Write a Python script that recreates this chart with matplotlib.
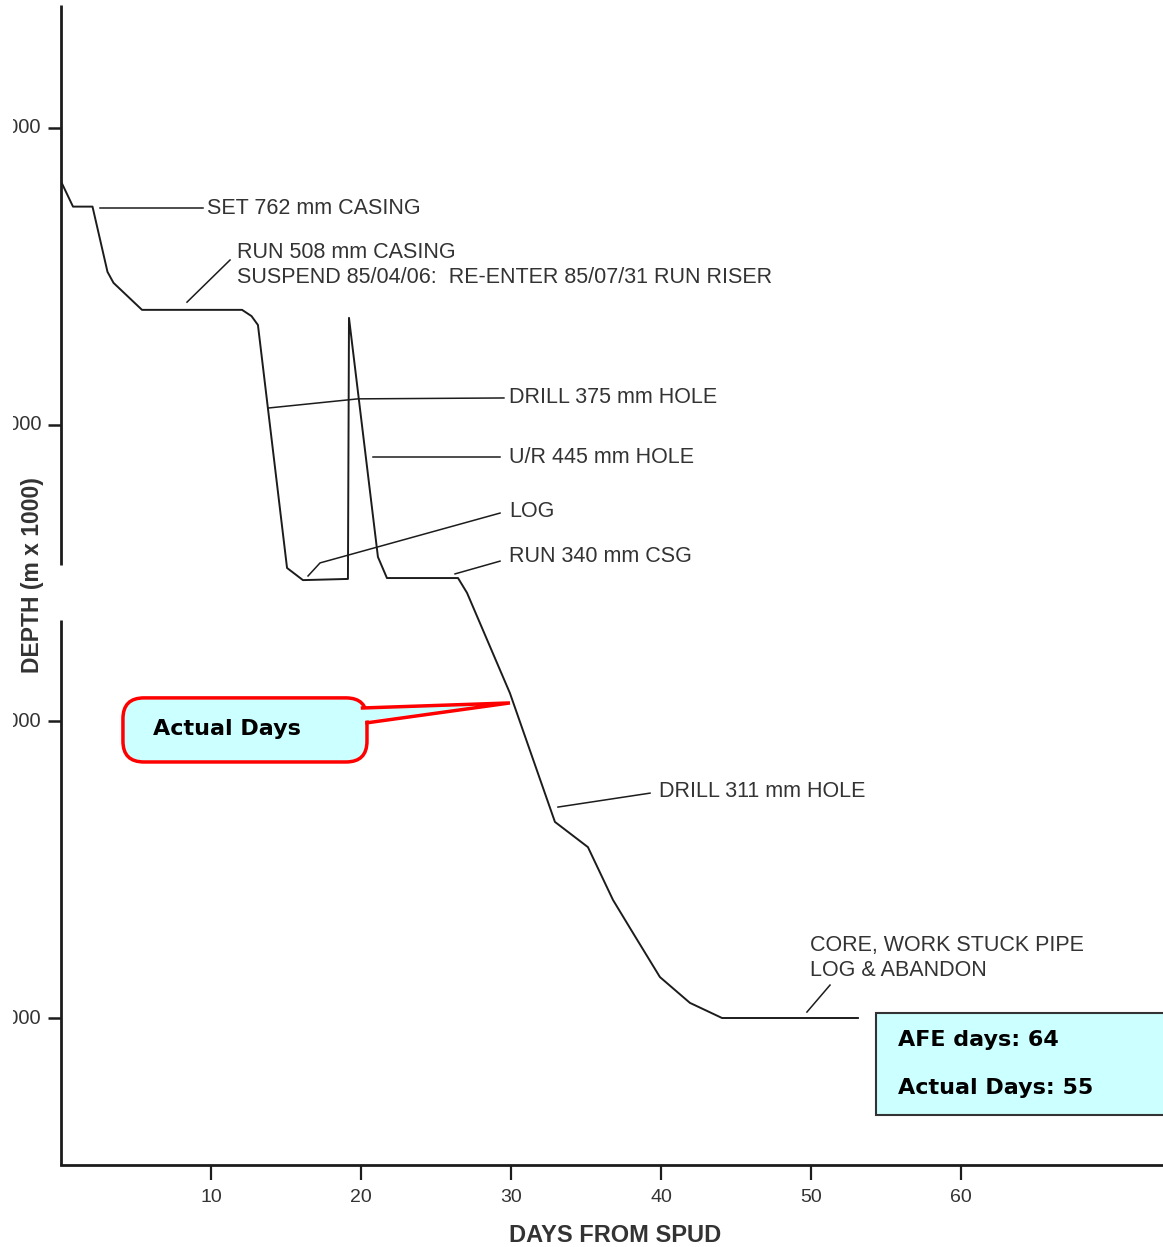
import matplotlib
matplotlib.use("Agg")
import matplotlib.pyplot as plt
from matplotlib.patches import FancyBboxPatch, Polygon, Rectangle
from matplotlib.transforms import Bbox, TransformedBbox, offset_copy

plt.rcParams['font.family'] = ['Liberation Sans', 'DejaVu Sans']

# Drilling progress: days from spud vs. depth (m)
days = [0.0, 0.8, 2.1, 3.1, 3.5, 5.4, 12.07, 12.7, 13.13, 15.07, 16.13,
        19.13, 19.2, 21.13, 21.73, 26.47, 27.07, 29.93, 32.93, 35.13,
        36.8, 38.13, 39.93, 41.93, 44.07, 53.13]
depths = [1180, 1265, 1265, 1485, 1522, 1613, 1613, 1634, 1664, 2483, 2524,
          2520, 1640, 2446, 2517, 2517, 2567, 2905, 3339, 3424,
          3602, 3713, 3862, 3949, 4000, 4000]

x_ticks = [10, 20, 30, 40, 50, 60]
y_ticks = [1000, 2000, 3000, 4000]
y_tick_labels = ["1000", "2000", "3000", "4000"]

afe_days = 64
actual_days = 55

# Operation notes: text, anchor (day, depth), leader polyline
notes = [
    ("SET 762 mm CASING", (9.73, 1273), [(2.6, 9.47), (1270, 1270)]),
    ("RUN 508 mm CASING\nSUSPEND 85/04/06:  RE-ENTER 85/07/31 RUN RISER",
     (11.73, 1462), [(8.4, 11.27), (1587, 1445)]),
    ("DRILL 375 mm HOLE", (29.87, 1907), [(13.8, 19.8, 29.53), (1944, 1913, 1910)]),
    ("U/R 445 mm HOLE", (29.87, 2109), [(20.8, 29.27), (2109, 2109)]),
    ("LOG", (29.87, 2294), [(16.47, 17.27, 29.27), (2510, 2466, 2298)]),
    ("RUN 340 mm CSG", (29.87, 2446), [(26.27, 29.27), (2503, 2460)]),
    ("DRILL 311 mm HOLE", (39.87, 3235), [(33.13, 39.27), (3289, 3242)]),
    ("CORE, WORK STUCK PIPE\nLOG & ABANDON", (49.93, 3798),
     [(49.73, 51.27), (3980, 3889)]),
]

INK = "#1c1c1c"
TXT = "#333333"
CYAN = "#ccffff"
W, H = 1163, 1247

fig = plt.figure(figsize=(W / 100, H / 100), dpi=100)
fig.patch.set_facecolor("white")
ax = fig.add_axes([61 / W, 1 - 1165 / H, 1 - 61 / W, 1160 / H])
ax.set_facecolor("none")

x_lim = (0, 73.47)
y_lim = (4495.5, 585.4)

# depth curve
ax.plot(days, depths, color=INK, lw=1.4, zorder=3)

# leader lines and notes
for text, (tx, ty), (lx, ly) in notes:
    ax.plot(lx, ly, color=INK, lw=1.1, zorder=3)
    ax.text(tx, ty, text, fontsize=15.5, color=TXT, ha="left", va="center",
            linespacing=1.2, zorder=4)

# axes frame: bottom spine and a broken left spine
for side in ("top", "right", "left"):
    ax.spines[side].set_visible(False)
ax.spines["bottom"].set_linewidth(2.0)
ax.spines["bottom"].set_color(INK)
ax.vlines([0, 0], [y_lim[1], 2658], [2473, y_lim[0]], transform=ax.get_yaxis_transform(),
          colors=INK, lw=2.0, clip_on=False, zorder=5)

ax.set_xticks(x_ticks)
ax.set_xticklabels([str(t) for t in x_ticks])
ax.tick_params(axis="x", direction="out", length=11, width=1.6, pad=6,
               labelsize=14, labelcolor=TXT, colors=INK)
ax.set_yticks(y_ticks)
ax.set_yticklabels([])
ax.tick_params(axis="y", direction="out", length=9.5, width=1.8, colors=INK)

# y tick labels, trimmed at the page's left margin
label_tf = offset_copy(ax.get_yaxis_transform(), fig=fig, x=-20, y=0, units="dots")
margin = TransformedBbox(Bbox([[0.13, 0], [W / 100, H / 100]]), fig.dpi_scale_trans)
for val, lab in zip(y_ticks, y_tick_labels):
    fig.text(0, val, lab, transform=label_tf, ha="right", va="center",
             fontsize=14.5, color=TXT, clip_on=True, clip_box=margin)

fig.text(33 / W, 1 - 575 / H, "DEPTH (m x 1000)", rotation=90, ha="center",
         va="center", fontsize=16.5, fontweight="bold", color=TXT)
fig.text(615 / W, 1 - 1235 / H, "DAYS FROM SPUD", ha="center", va="center",
         fontsize=17, fontweight="bold", color=TXT)

# "Actual Days" callout
bx0, bx1, by0, by1 = 4.13, 20.4, 2921, 3137
rx, ry = 1.4, 70.0
box = FancyBboxPatch((bx0, by0), bx1 - bx0, by1 - by0,
                     boxstyle=f"round,pad=0,rounding_size={rx}",
                     mutation_aspect=ry / rx, fc=CYAN, ec="red", lw=2.5, zorder=6)
ax.add_patch(box)
tip = (29.93, 2938)
w_top = (20.1, 2955)
w_bot = (20.4, 3005)
ax.add_patch(Polygon([(19.6, 2958), tip, (19.6, 3002)], closed=True, fc=CYAN,
                     ec="none", zorder=7))
ax.plot([w_top[0], tip[0], w_bot[0]], [w_top[1], tip[1], w_bot[1]],
        color="red", lw=2.5, zorder=7, solid_joinstyle="miter")
ax.text(6.13, 3026, "Actual Days", fontsize=16, fontweight="bold",
        family="DejaVu Sans", color="black", ha="left", va="center", zorder=8)

# AFE summary box
ax.add_patch(Rectangle((54.33, 3983), 22, 344, fc=CYAN, ec="#333333", lw=1.5,
                       clip_on=False, zorder=6))
ax.text(55.8, 4074, f"AFE days: {afe_days}", fontsize=16, fontweight="bold",
        family="DejaVu Sans", color="black", ha="left", va="center", zorder=8,
        clip_on=False)
ax.text(55.8, 4236, f"Actual Days: {actual_days}", fontsize=16, fontweight="bold",
        family="DejaVu Sans", color="black", ha="left", va="center", zorder=8,
        clip_on=False)

ax.set_xlim(*x_lim)
ax.set_ylim(*y_lim)

fig.savefig("out.png", dpi=100, facecolor="white")
